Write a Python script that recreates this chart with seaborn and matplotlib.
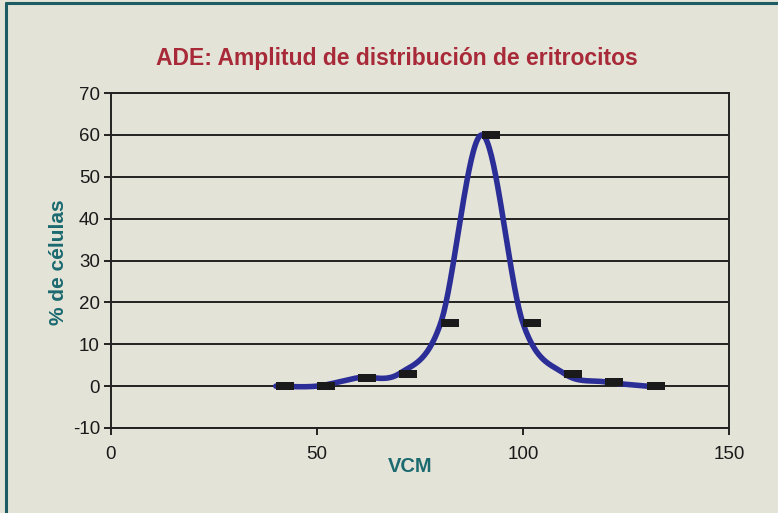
import numpy as np
import pandas as pd
import seaborn as sns
import matplotlib
matplotlib.use("Agg")
import matplotlib.pyplot as plt
from matplotlib.path import Path
from matplotlib.lines import Line2D

# values
vcm = [40, 50, 60, 70, 80, 90, 100, 110, 120, 130]
pct = [0, 0, 2, 3, 15, 60, 15, 3, 1, 0]

title = "ADE: Amplitud de distribución de eritrocitos"
xlabel = "VCM"
ylabel = "% de células"
xticks = [0, 50, 100, 150]
yticks = [-10, 0, 10, 20, 30, 40, 50, 60, 70]

bg = "#e4e3d8"
teal = "#1b6a70"
red = "#a82a38"
blue = "#2c2e98"

sns.set_style("white")
plt.rcParams["font.family"] = ["Liberation Sans", "DejaVu Sans"]
plt.rcParams["axes.unicode_minus"] = False


def smooth(xs, ys, n=40):
    # Excel-style smoothed line (Catmull-Rom as cubic Bezier)
    p = np.column_stack([xs, ys]).astype(float)
    p = np.vstack([p[0], p, p[-1]])
    out = []
    t = np.linspace(0, 1, n)[:, None]
    for i in range(1, len(p) - 2):
        p0, p1, p2, p3 = p[i - 1], p[i], p[i + 1], p[i + 2]
        c1 = p1 + (p2 - p0) / 6
        c2 = p2 - (p3 - p1) / 6
        seg = ((1 - t) ** 3) * p1 + 3 * ((1 - t) ** 2) * t * c1 + 3 * (1 - t) * t ** 2 * c2 + t ** 3 * p2
        out.append(seg if i == 1 else seg[1:])
    return np.vstack(out)


curve = smooth(vcm, pct)
df = pd.DataFrame({"x": curve[:, 0], "y": curve[:, 1]})

fig = plt.figure(figsize=(7.78, 5.13), dpi=100)
fig.patch.set_facecolor(bg)
ax = fig.add_axes([111 / 778, 1 - 428 / 513, 618 / 778, 335 / 513])
ax.set_facecolor(bg)

sns.lineplot(data=df, x="x", y="y", sort=False, estimator=None, color=blue,
             linewidth=4, ax=ax, zorder=3)

# dash marker anchored at its left end
dash = Path([(0, -0.2), (1, -0.2), (1, 0.2), (0, 0.2), (0, -0.2)],
            [Path.MOVETO, Path.LINETO, Path.LINETO, Path.LINETO, Path.CLOSEPOLY])
ax.plot(vcm, pct, linestyle="none", marker=dash, markersize=26,
        color="#1a1a1a", markeredgewidth=0, zorder=4)

ax.set_xlim(0, 150)
ax.set_ylim(-10, 70)
ax.set_xticks(xticks)
ax.set_yticks(yticks)
ax.yaxis.grid(True, color="#222222", linewidth=1.4)
ax.set_axisbelow(True)
for s in ax.spines.values():
    s.set_color("#222222")
    s.set_linewidth(1.4)
ax.tick_params(axis="both", direction="out", length=5, width=1.4, color="#222222",
               labelsize=13.5, labelcolor="#1a1a1a")
ax.tick_params(axis="x", pad=8, bottom=True)
ax.tick_params(axis="y", pad=3, left=True)
ax.set_xlabel("")
ax.set_ylabel("")

fig.text(397 / 778, 1 - 58 / 513, title, ha="center", va="center",
         fontsize=16.5, fontweight="bold", color=red)
fig.text(410 / 778, 1 - 467 / 513, xlabel, ha="center", va="center",
         fontsize=14.5, fontweight="bold", color=teal)
fig.text(58 / 778, 1 - 262 / 513, ylabel, ha="center", va="center", rotation=90,
         fontsize=15, fontweight="bold", color=teal)

# frame lines on the left and top of the slide
fig.add_artist(Line2D([6 / 778, 6 / 778], [0, 1 - 3 / 513], transform=fig.transFigure,
                      color="#1e5c63", linewidth=2.2))
fig.add_artist(Line2D([6 / 778, 1], [1 - 3 / 513, 1 - 3 / 513], transform=fig.transFigure,
                      color="#1e5c63", linewidth=2.2))

fig.savefig("out.png", dpi=100, facecolor=bg)
